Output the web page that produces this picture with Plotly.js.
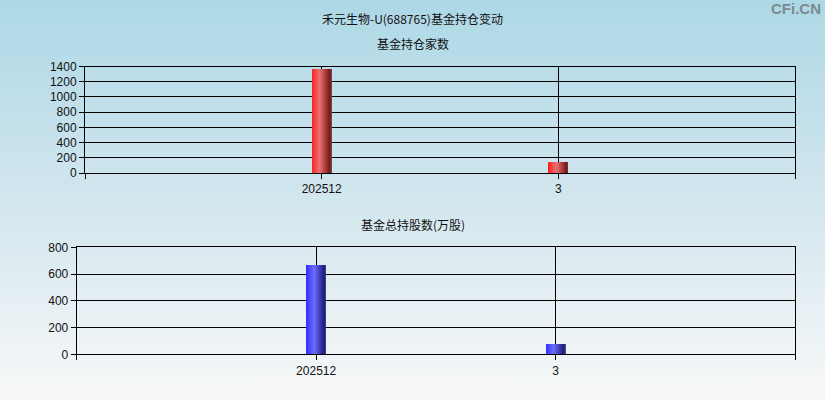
<!DOCTYPE html>
<html>
<head>
<meta charset="utf-8">
<script src="https://cdn.plot.ly/plotly-3.0.1.min.js"></script>
<style>
html, body { margin:0; padding:0; }
body { width:825px; height:400px; background: linear-gradient(to bottom, #add8e6 0%, #d2e6ee 50%, #f8f8f8 100%); }
#chart { width:825px; height:400px; }
</style>
</head>
<body>
<div id="chart"></div>
<script>
const mainTitle = '禾元生物-U(688765)基金持仓变动';
const subTitle1 = '基金持仓家数';
const subTitle2 = '基金总持股数(万股)';
const categories = ['202512', '3'];
const fundCount = [1367, 145];
const fundShares = [670, 77];
const countTicks = [0, 200, 400, 600, 800, 1000, 1200, 1400];
const shareTicks = [0, 200, 400, 600, 800];

const xPos = categories.map((_, i) => i + 1);
const xTickVals = [0].concat(xPos, [categories.length + 1]);
const xTickText = [''].concat(categories, ['']);

const tickFont = { family: 'Liberation Sans, Arial, sans-serif', size: 12, color: '#111' };
const cjkFont = { family: 'Noto Sans CJK SC, sans-serif', size: 12, color: '#111' };

const traces = [
  { type: 'bar', x: xPos, y: fundCount, xaxis: 'x', yaxis: 'y', width: 0.085,
    marker: { color: '#e03030', line: { width: 0 } }, hoverinfo: 'none' },
  { type: 'bar', x: xPos, y: fundShares, xaxis: 'x2', yaxis: 'y2', width: 0.084,
    marker: { color: '#3030e0', line: { width: 0 } }, hoverinfo: 'none' }
];

const xCommon = {
  range: [0, categories.length + 1], tickmode: 'array', tickvals: xTickVals, ticktext: xTickText,
  showgrid: true, gridcolor: '#000', gridwidth: 1, showline: true, linecolor: '#000', linewidth: 1,
  mirror: true, ticks: 'outside', ticklen: 5, tickcolor: '#000', tickfont: tickFont, zeroline: false, fixedrange: true
};
const yCommon = {
  showgrid: true, gridcolor: '#000', gridwidth: 1, showline: true, linecolor: '#000', linewidth: 1,
  mirror: true, ticks: 'outside', ticklen: 5, tickcolor: '#000', tickfont: tickFont, zeroline: false,
  tickmode: 'array', fixedrange: true
};

const layout = {
  width: 825, height: 400,
  margin: { l: 0, r: 0, t: 0, b: 0 },
  paper_bgcolor: 'rgba(0,0,0,0)', plot_bgcolor: 'rgba(0,0,0,0)',
  showlegend: false, bargap: 0,
  xaxis: Object.assign({}, xCommon, { domain: [85/825, 795/825], anchor: 'y' }),
  yaxis: Object.assign({}, yCommon, { domain: [1 - 173/400, 1 - 66.5/400], range: [0, 1400], tickvals: countTicks, anchor: 'x' }),
  xaxis2: Object.assign({}, xCommon, { domain: [76.7/825, 795/825], anchor: 'y2' }),
  yaxis2: Object.assign({}, yCommon, { domain: [1 - 354.3/400, 1 - 247.3/400], range: [0, 800], tickvals: shareTicks, anchor: 'x2' }),
  annotations: [
    { text: mainTitle, xref: 'paper', yref: 'paper', x: 0.5, y: 1 - 18/400, xanchor: 'center', yanchor: 'middle', showarrow: false, font: cjkFont },
    { text: subTitle1, xref: 'paper', yref: 'paper', x: 0.5, y: 1 - 43/400, xanchor: 'center', yanchor: 'middle', showarrow: false, font: cjkFont },
    { text: subTitle2, xref: 'paper', yref: 'paper', x: 0.5, y: 1 - 224/400, xanchor: 'center', yanchor: 'middle', showarrow: false, font: cjkFont },
    { text: '<b>CFi.CN</b>', xref: 'paper', yref: 'paper', x: 823/825, y: 1 - 9/400, xanchor: 'right', yanchor: 'middle', showarrow: false,
      font: { family: 'Liberation Sans Narrow, Liberation Sans, Arial, sans-serif', size: 15, color: '#7d8a8f' } }
  ]
};

function addGradients(gd) {
  const svg = gd.querySelector('.main-svg');
  const ns = 'http://www.w3.org/2000/svg';
  const defs = document.createElementNS(ns, 'defs');
  const grads = {
    redGrad: [[0, '#ff1e1e'], [0.4, '#e87272'], [0.9, '#7c1616'], [1, '#6a4a4a']],
    blueGrad: [[0, '#2e2eff'], [0.4, '#6c6cff'], [0.9, '#1a1a80'], [1, '#505070']]
  };
  Object.keys(grads).forEach(id => {
    const lg = document.createElementNS(ns, 'linearGradient');
    lg.setAttribute('id', id);
    lg.setAttribute('x1', '0'); lg.setAttribute('x2', '1'); lg.setAttribute('y1', '0'); lg.setAttribute('y2', '0');
    grads[id].forEach(s => {
      const st = document.createElementNS(ns, 'stop');
      st.setAttribute('offset', s[0]);
      st.setAttribute('stop-color', s[1]);
      lg.appendChild(st);
    });
    defs.appendChild(lg);
  });
  svg.insertBefore(defs, svg.firstChild);
  const traceGroups = gd.querySelectorAll('.barlayer .trace');
  traceGroups.forEach((g, i) => {
    g.querySelectorAll('path').forEach(p => {
      p.style.setProperty('fill', i === 0 ? 'url(#redGrad)' : 'url(#blueGrad)');
    });
  });
}

Plotly.newPlot('chart', traces, layout, { staticPlot: true, displayModeBar: false }).then(addGradients);
</script>
</body>
</html>
